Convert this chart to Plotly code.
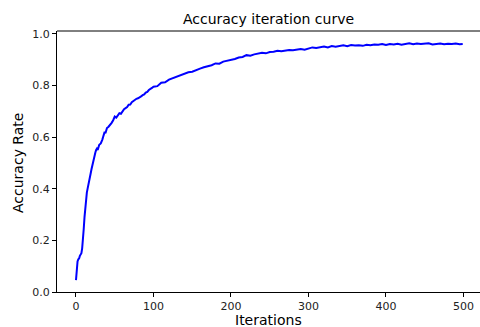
import plotly.graph_objects as go

iterations = [0, 1, 2, 3, 4, 5, 6, 7, 8, 9, 10, 11, 12, 13, 14, 15, 16, 17, 18, 19,
              20, 21, 22, 23, 24, 25, 26, 27, 28, 29, 30, 32, 33, 34, 35, 36, 37, 38, 39, 40,
              42, 44, 46, 48, 50, 52, 54, 56, 58, 60, 62, 64, 66, 68, 70, 72, 74, 76, 78, 80,
              82, 84, 86, 88, 90, 92, 94, 96, 98, 100,
              105, 110, 115, 120, 125, 130, 135, 140, 145, 150, 155, 160, 165, 170, 175, 180,
              185, 190, 195, 200, 205, 210, 215, 220, 225, 230, 235, 240, 245, 250, 255, 260,
              265, 270, 275, 280, 285, 290, 295, 300, 305, 310, 315, 320, 325, 330, 335, 340,
              345, 350, 355, 360, 365, 370, 375, 380, 385, 390, 395, 400, 405, 410, 415, 420,
              425, 430, 435, 440, 445, 450, 455, 460, 465, 470, 475, 480, 485, 490, 495, 499]

accuracy = [0.046, 0.092, 0.118, 0.127, 0.130, 0.140, 0.147, 0.150, 0.170, 0.200,
            0.245, 0.290, 0.330, 0.360, 0.385, 0.400, 0.420, 0.435, 0.446, 0.460,
            0.475, 0.490, 0.504, 0.520, 0.530, 0.540, 0.550, 0.555, 0.550, 0.562,
            0.570, 0.575, 0.580, 0.590, 0.600, 0.610, 0.620, 0.615, 0.630, 0.635,
            0.640, 0.646, 0.655, 0.665, 0.679, 0.675, 0.685, 0.692, 0.690, 0.700,
            0.708, 0.712, 0.716, 0.725, 0.726, 0.735, 0.740, 0.745, 0.748, 0.750,
            0.752, 0.757, 0.762, 0.765, 0.772, 0.775, 0.782, 0.785, 0.790, 0.795,
            0.797, 0.810, 0.812, 0.822, 0.828, 0.834, 0.840, 0.845, 0.851, 0.853,
            0.860, 0.865, 0.870, 0.873, 0.878, 0.885, 0.884, 0.892, 0.895, 0.900,
            0.902, 0.908, 0.910, 0.917, 0.915, 0.920, 0.922, 0.926, 0.924, 0.929,
            0.930, 0.934, 0.932, 0.935, 0.937, 0.936, 0.940, 0.941, 0.938, 0.943,
            0.947, 0.945, 0.948, 0.950, 0.947, 0.952, 0.950, 0.953, 0.955, 0.952,
            0.956, 0.954, 0.955, 0.953, 0.957, 0.955, 0.958, 0.957, 0.960, 0.956,
            0.960, 0.958, 0.961, 0.957, 0.960, 0.963, 0.959, 0.962, 0.960, 0.961,
            0.963, 0.958, 0.960, 0.962, 0.959, 0.961, 0.960, 0.962, 0.959, 0.960]

x_ticks = [0, 100, 200, 300, 400, 500]
y_ticks = [0.0, 0.2, 0.4, 0.6, 0.8, 1.0]

FONT = "DejaVu Sans"

fig = go.Figure()
fig.add_trace(go.Scatter(x=iterations, y=accuracy, mode="lines",
                         line=dict(color="#0000ff", width=2), showlegend=False))

axis_common = dict(showgrid=False, zeroline=False, showline=True, linecolor="black",
                   linewidth=1, ticks="outside", ticklen=4, tickcolor="black", tickwidth=1,
                   mirror=False, automargin=False,
                   tickfont=dict(family=FONT, size=11, color="#222222"))

fig.update_layout(
    width=480, height=327,
    margin=dict(l=57, r=0, t=31, b=35, autoexpand=False),
    paper_bgcolor="white", plot_bgcolor="white",
    font=dict(family=FONT, size=11, color="#000000"),
    title=dict(text="Accuracy iteration curve", x=0.5, xref="paper", xanchor="center",
               y=1 - 19 / 327, yanchor="middle", font=dict(family=FONT, size=14)),
    xaxis=dict(range=[-24.5, 521.3], tickvals=x_ticks, ticktext=[str(v) for v in x_ticks],
               **axis_common),
    yaxis=dict(range=[0, 1.0105], tickvals=y_ticks, ticktext=[f"{v:.1f}" for v in y_ticks],
               **axis_common),
    shapes=[dict(type="line", xref="paper", yref="paper", x0=0, x1=1, y0=1, y1=1,
                 line=dict(color="black", width=1))],
    annotations=[
        dict(text="Iterations", xref="paper", yref="paper", x=(268 - 57) / 423,
             y=(292 - 320) / 261, xanchor="center", yanchor="middle", showarrow=False,
             font=dict(family=FONT, size=14, color="#000000")),
        dict(text="Accuracy Rate", xref="paper", yref="paper", x=(18 - 57) / 423,
             y=(292 - 163) / 261, xanchor="center", yanchor="middle", showarrow=False,
             textangle=-90, font=dict(family=FONT, size=14, color="#000000")),
    ],
)

fig.write_html("out.html", config={"displayModeBar": False},
               post_script="document.body.style.margin='0';document.body.style.overflow='hidden';")
